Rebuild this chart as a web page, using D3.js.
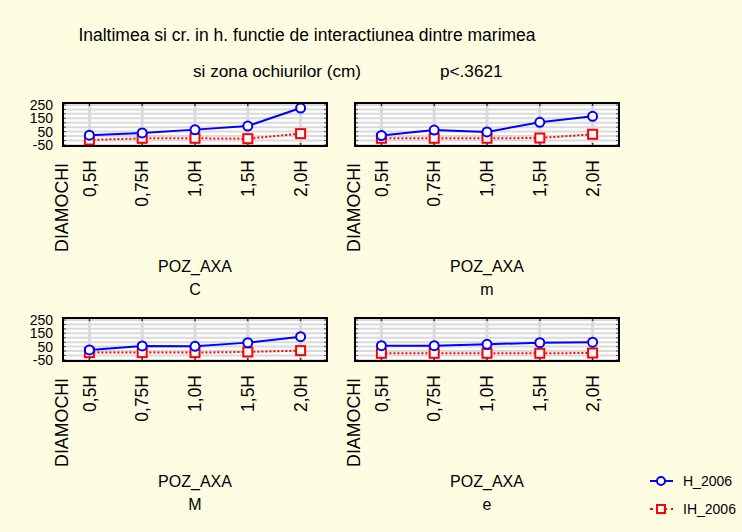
<!DOCTYPE html>
<html>
<head>
<meta charset="utf-8">
<script src="https://cdn.jsdelivr.net/npm/d3@7"></script>
<style>
  body { margin: 0; background: #fffde1; }
  svg { display: block; }
  text { font-family: "Liberation Sans", Arial, sans-serif; fill: #000; }
</style>
</head>
<body>
<div id="chart"></div>
<script>
const categories = ["0,5H", "0,75H", "1,0H", "1,5H", "2,0H"];
const panelNames = ["C", "m", "M", "e"];

// H_2006 and IH_2006 per panel
const hC = [23, 40, 65, 92, 227];
const ihC = [-13, 0, 0, -3, 35];
const hm = [20, 62, 48, 120, 165];
const ihm = [0, 0, 0, 2, 30];
const hM = [25, 55, 52, 80, 125];
const ihM = [5, 5, 5, 10, 20];
const he = [57, 57, 67, 80, 83];
const ihe = [0, 0, 0, 0, 2];

const yTicks = [-50, 50, 150, 250];
const seriesNames = ["H_2006", "IH_2006"];

const panelData = [
  { name: panelNames[0], h: hC, ih: ihC },
  { name: panelNames[1], h: hm, ih: ihm },
  { name: panelNames[2], h: hM, ih: ihM },
  { name: panelNames[3], h: he, ih: ihe },
];

const w = 742;
const h = 532;

const svg = d3
  .select("#chart")
  .append("svg")
  .attr("width", w)
  .attr("height", h);

svg.append("rect").attr("width", w).attr("height", h).attr("fill", "#fffde1");

// title
svg
  .append("text")
  .attr("x", 307)
  .attr("y", 41)
  .attr("text-anchor", "middle")
  .style("font-size", "17.5px")
  .text("Inaltimea si cr. in h. functie de interactiunea dintre marimea");

svg
  .append("text")
  .attr("x", 193)
  .attr("y", 77)
  .style("font-size", "17.2px")
  .text("si zona ochiurilor (cm)");

svg
  .append("text")
  .attr("x", 440)
  .attr("y", 77)
  .style("font-size", "17.2px")
  .text("p<.3621");

const pw = 264;
const ph = 43;
const origins = [
  [63, 103],
  [355, 103],
  [63, 318],
  [355, 318],
];

const blue = "#0000ff";
const red = "#ff0000";

panelData.forEach((p, i) => {
  const [x0, y0] = origins[i];
  const g = svg.append("g").attr("transform", `translate(${x0},${y0})`);

  const xScale = d3.scalePoint().domain(categories).range([0, pw]).padding(0.5);
  const yScale = d3.scaleLinear().domain([-58, 265]).range([ph, 0]);

  g.append("rect").attr("width", pw).attr("height", ph).attr("fill", "#fff");

  const gridVals = d3.range(-50, 265, 100 / 3);

  // horizontal grid
  g.selectAll(".hg")
    .data(gridVals)
    .enter()
    .append("line")
    .attr("x1", 0)
    .attr("x2", pw)
    .attr("y1", (d) => yScale(d))
    .attr("y2", (d) => yScale(d))
    .attr("stroke", "#dadada")
    .attr("stroke-width", 2);

  // vertical grid
  g.selectAll(".vg")
    .data(categories)
    .enter()
    .append("line")
    .attr("x1", (d) => xScale(d))
    .attr("x2", (d) => xScale(d))
    .attr("y1", 0)
    .attr("y2", ph)
    .attr("stroke", "#dadada")
    .attr("stroke-width", 3);

  // small ticks top/bottom at categories
  categories.forEach((c) => {
    g.append("line").attr("x1", xScale(c)).attr("x2", xScale(c)).attr("y1", 0).attr("y2", 3).attr("stroke", "#333").attr("stroke-width", 1.5);
    g.append("line").attr("x1", xScale(c)).attr("x2", xScale(c)).attr("y1", ph - 3).attr("y2", ph).attr("stroke", "#333").attr("stroke-width", 1.5);
  });

  // minor ticks left/right
  gridVals.forEach((v) => {
    g.append("line").attr("x1", 0).attr("x2", 3).attr("y1", yScale(v)).attr("y2", yScale(v)).attr("stroke", "#555");
    g.append("line").attr("x1", pw - 3).attr("x2", pw).attr("y1", yScale(v)).attr("y2", yScale(v)).attr("stroke", "#555");
  });

  const line = d3
    .line()
    .x((d, j) => xScale(categories[j]))
    .y((d) => yScale(d));

  g.append("path")
    .datum(p.ih)
    .attr("d", line)
    .attr("fill", "none")
    .attr("stroke", red)
    .attr("stroke-width", 2)
    .attr("stroke-dasharray", "2,2");

  g.append("path")
    .datum(p.h)
    .attr("d", line)
    .attr("fill", "none")
    .attr("stroke", blue)
    .attr("stroke-width", 2);

  g.selectAll(".sq")
    .data(p.ih)
    .enter()
    .append("rect")
    .attr("x", (d, j) => xScale(categories[j]) - 4.5)
    .attr("y", (d) => yScale(d) - 4.5)
    .attr("width", 9)
    .attr("height", 9)
    .attr("fill", "#fff")
    .attr("stroke", red)
    .attr("stroke-width", 2);

  g.selectAll(".ci")
    .data(p.h)
    .enter()
    .append("circle")
    .attr("cx", (d, j) => xScale(categories[j]))
    .attr("cy", (d) => yScale(d))
    .attr("r", 4.5)
    .attr("fill", "#fff")
    .attr("stroke", blue)
    .attr("stroke-width", 2);

  g.append("rect")
    .attr("width", pw)
    .attr("height", ph)
    .attr("fill", "none")
    .attr("stroke", "#000")
    .attr("stroke-width", 2);

  // y axis labels only on the left column
  if (i % 2 === 0) {
    g.selectAll(".yl")
      .data(yTicks)
      .enter()
      .append("text")
      .attr("x", -10)
      .attr("y", (d) => yScale(d))
      .attr("dy", "0.35em")
      .attr("text-anchor", "end")
      .style("font-size", "14px")
      .text((d) => d);
  }

  // x tick labels, rotated
  g.selectAll(".xl")
    .data(categories)
    .enter()
    .append("text")
    .attr("transform", (d) => `translate(${xScale(d)},${ph + 14}) rotate(-90)`)
    .attr("dy", "0.35em")
    .attr("text-anchor", "end")
    .style("font-size", "17.5px")
    .text((d) => d);

  g.append("text")
    .attr("transform", `translate(-1,${ph + 17}) rotate(-90)`)
    .attr("dy", "0.35em")
    .attr("text-anchor", "end")
    .style("font-size", "17.8px")
    .text("DIAMOCHI");

  g.append("text")
    .attr("x", pw / 2)
    .attr("y", ph + 126)
    .attr("text-anchor", "middle")
    .style("font-size", "16px")
    .text("POZ_AXA");

  g.append("text")
    .attr("x", pw / 2)
    .attr("y", ph + 149)
    .attr("text-anchor", "middle")
    .style("font-size", "16px")
    .text(p.name);
});

// legend
const legend = svg.append("g");
seriesNames.forEach((s, i) => {
  const ly = 481 + i * 28;
  const gl = legend.append("g");
  gl.append("line")
    .attr("x1", 650)
    .attr("x2", 673)
    .attr("y1", ly)
    .attr("y2", ly)
    .attr("stroke", i === 0 ? blue : red)
    .attr("stroke-width", 2)
    .attr("stroke-dasharray", i === 0 ? null : "3,4");
  if (i === 0) {
    gl.append("circle").attr("cx", 661).attr("cy", ly).attr("r", 4).attr("fill", "#fff").attr("stroke", blue).attr("stroke-width", 2);
  } else {
    gl.append("rect").attr("x", 657).attr("y", ly - 4).attr("width", 8).attr("height", 8).attr("fill", "#fff").attr("stroke", red).attr("stroke-width", 2);
  }
  gl.append("text")
    .attr("x", 683)
    .attr("y", ly)
    .attr("dy", "0.35em")
    .style("font-size", "14px")
    .text(s);
});
</script>
</body>
</html>
